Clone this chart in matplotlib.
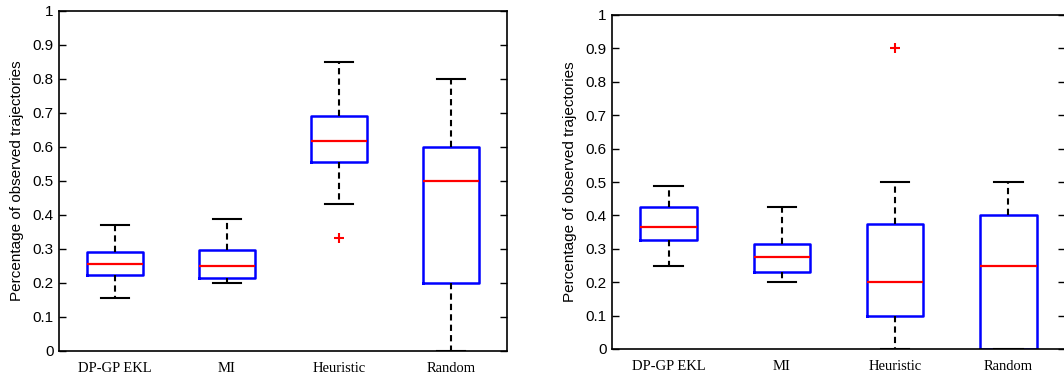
import matplotlib
matplotlib.use("Agg")
import matplotlib.pyplot as plt

methods = ["DP-GP EKL", "MI", "Heuristic", "Random"]

# left panel: whisker low, q1, median, q3, whisker high, outliers
left_low = [0.156, 0.200, 0.432, 0.0]
left_q1 = [0.224, 0.215, 0.556, 0.2]
left_med = [0.256, 0.250, 0.618, 0.5]
left_q3 = [0.290, 0.297, 0.690, 0.6]
left_high = [0.372, 0.387, 0.850, 0.8]
left_out = [[], [], [0.333], []]

# right panel
right_low = [0.250, 0.200, 0.0, 0.0]
right_q1 = [0.325, 0.230, 0.1, 0.0]
right_med = [0.365, 0.275, 0.2, 0.25]
right_q3 = [0.424, 0.315, 0.375, 0.4]
right_high = [0.487, 0.425, 0.5, 0.5]
right_out = [[], [], [0.9], []]

yticks = [0, 0.1, 0.2, 0.3, 0.4, 0.5, 0.6, 0.7, 0.8, 0.9, 1]
ytick_labels = ["0", "0.1", "0.2", "0.3", "0.4", "0.5", "0.6", "0.7", "0.8", "0.9", "1"]


def make_stats(low, q1, med, q3, high, out):
    stats = []
    for i in range(len(med)):
        stats.append({"whislo": low[i], "q1": q1[i], "med": med[i],
                      "q3": q3[i], "whishi": high[i], "fliers": out[i]})
    return stats


def draw_panel(ax, stats):
    ax.bxp(stats, positions=[1, 2, 3, 4], widths=0.5,
           boxprops=dict(color="#0000ff", linewidth=1.8),
           medianprops=dict(color="#ff0000", linewidth=1.6),
           whiskerprops=dict(color="black", linewidth=1.5, linestyle=(0, (3, 2))),
           capprops=dict(color="black", linewidth=1.5),
           flierprops=dict(marker="+", markeredgecolor="#ff0000", markersize=7,
                           markeredgewidth=1.5, linestyle="none"))
    ax.set_xlim(0.5, 4.5)
    ax.set_ylim(0, 1)
    ax.set_yticks(yticks)
    ax.set_yticklabels(ytick_labels, fontsize=11, family="Liberation Sans")
    ax.set_xticks([1, 2, 3, 4])
    ax.set_xticklabels(methods, fontsize=10.5, family="Liberation Serif")
    ax.tick_params(axis="y", direction="in", length=5, width=1, right=True, pad=4)
    ax.tick_params(axis="x", length=0, pad=8)
    for sp in ax.spines.values():
        sp.set_linewidth(1.2)
    ax.set_ylabel("Percentage of observed trajectories", fontsize=11,
                  family="Liberation Sans", labelpad=6)


fig = plt.figure(figsize=(10.64, 3.79), dpi=100)
ax1 = fig.add_axes([59 / 1064, 28 / 379, 448 / 1064, 340 / 379])
ax2 = fig.add_axes([612 / 1064, 30 / 379, 453 / 1064, 334 / 379])

draw_panel(ax1, make_stats(left_low, left_q1, left_med, left_q3, left_high, left_out))
draw_panel(ax2, make_stats(right_low, right_q1, right_med, right_q3, right_high, right_out))

fig.savefig("out.png", dpi=100)
